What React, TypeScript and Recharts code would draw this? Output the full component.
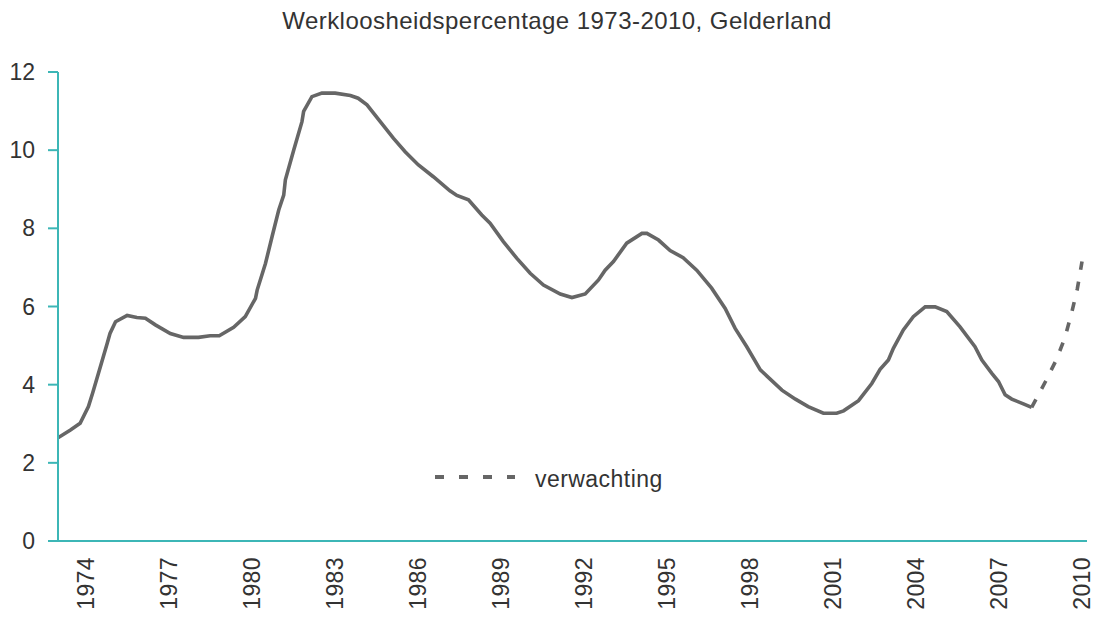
import { LineChart, Line, XAxis, YAxis, Legend } from "recharts";

const jaren = [
  1973.0, 1973.45, 1973.8, 1974.1, 1974.25, 1974.5, 1974.78, 1974.88, 1975.08, 1975.5,
  1975.85, 1976.16, 1976.52, 1977.06, 1977.54, 1978.08, 1978.5, 1978.83, 1979.35, 1979.77,
  1980.14, 1980.2, 1980.5, 1980.74, 1980.98, 1981.16, 1981.22, 1981.52, 1981.82, 1981.88,
  1982.18, 1982.54, 1983.02, 1983.57, 1983.85, 1984.17, 1984.65, 1985.13, 1985.55, 1986.03,
  1986.57, 1987.17, 1987.42, 1987.84, 1988.32, 1988.62, 1989.1, 1989.59, 1990.07, 1990.55,
  1991.16, 1991.58, 1992.06, 1992.54, 1992.78, 1993.08, 1993.56, 1994.11, 1994.29, 1994.71,
  1995.13, 1995.6, 1996.09, 1996.63, 1997.12, 1997.48, 1997.9, 1998.39, 1998.63, 1999.17,
  1999.66, 2000.12, 2000.67, 2001.15, 2001.4, 2001.94, 2002.42, 2002.72, 2003.02, 2003.2,
  2003.56, 2003.92, 2004.35, 2004.71, 2005.13, 2005.61, 2006.15, 2006.4, 2006.76, 2007.0,
  2007.24, 2007.48, 2007.9, 2008.2,
];
const werkloosheid = [
  2.64, 2.84, 3.01, 3.44, 3.78, 4.38, 5.06, 5.31, 5.61, 5.77,
  5.72, 5.7, 5.53, 5.31, 5.21, 5.21, 5.25, 5.25, 5.47, 5.74,
  6.21, 6.42, 7.1, 7.79, 8.47, 8.85, 9.24, 10.0, 10.73, 10.99,
  11.37, 11.46, 11.46, 11.4, 11.33, 11.16, 10.73, 10.3, 9.96, 9.62,
  9.32, 8.96, 8.84, 8.73, 8.34, 8.13, 7.66, 7.23, 6.85, 6.55,
  6.32, 6.23, 6.32, 6.68, 6.93, 7.15, 7.62, 7.87, 7.87, 7.7,
  7.43, 7.25, 6.93, 6.47, 5.95, 5.44, 4.97, 4.38, 4.22, 3.86,
  3.63, 3.44, 3.27, 3.27, 3.33, 3.59, 4.03, 4.39, 4.63, 4.93,
  5.4, 5.74, 5.99, 5.99, 5.87, 5.48, 4.97, 4.63, 4.29, 4.08,
  3.74, 3.63, 3.51, 3.42,
];

const prognoseJaren = [2008.2, 2008.7, 2009.1, 2009.4, 2009.65, 2009.85, 2010.02];
const prognose = [3.42, 4.08, 4.65, 5.2, 5.85, 6.45, 7.15];

const jaarTicks = [1974, 1977, 1980, 1983, 1986, 1989, 1992, 1995, 1998, 2001, 2004, 2007, 2010];
const yTicks = [0, 2, 4, 6, 8, 10, 12];

const gemeten = jaren.map((jaar, i) => ({ jaar, waarde: werkloosheid[i] }));
const verwacht = prognoseJaren.map((jaar, i) => ({ jaar, waarde: prognose[i] }));

const FONT = '"Liberation Sans", Arial, Helvetica, sans-serif';
const TEAL = "#3cb6b6";
const LIJN = "#666666";
const TEKST = "#333333";

function JaarTick({ x, y, payload }: any) {
  return (
    <text
      x={x}
      y={y}
      transform={`rotate(-90, ${x}, ${y})`}
      textAnchor="end"
      dy="0.36em"
      fill={TEKST}
      fontSize={23}
      fontFamily={FONT}
      letterSpacing={0.4}
    >
      {payload.value}
    </text>
  );
}

function LegendaInhoud() {
  return (
    <svg width={260} height={34}>
      <line x1={5} y1={15} x2={85} y2={15} stroke={LIJN} strokeWidth={4} strokeDasharray="9 15" />
      <text x={105} y={25} fill={TEKST} fontSize={23} fontFamily={FONT} letterSpacing={0.45}>
        verwachting
      </text>
    </svg>
  );
}

export default function App() {
  return (
    <div style={{ position: "absolute", left: 0, top: 0, width: 1095, height: 618, background: "#fff" }}>
      <div
        style={{
          position: "absolute",
          left: 0,
          top: 9,
          width: 1114,
          textAlign: "center",
          fontFamily: FONT,
          fontSize: 24,
          lineHeight: "24px",
          letterSpacing: 0.45,
          color: TEKST,
        }}
      >
        Werkloosheidspercentage 1973-2010, Gelderland
      </div>
      <LineChart width={1095} height={618} margin={{ top: 72, right: 8, bottom: 0, left: 0 }}>
        <XAxis
          dataKey="jaar"
          type="number"
          domain={[1973, 2010.2]}
          ticks={jaarTicks}
          allowDataOverflow
          height={77}
          tickLine={false}
          tickSize={0}
          tickMargin={16}
          axisLine={{ stroke: TEAL, strokeWidth: 2 }}
          tick={<JaarTick />}
          interval={0}
        />
        <YAxis
          type="number"
          domain={[0, 12]}
          ticks={yTicks}
          width={58}
          tickSize={10}
          tickMargin={13}
          axisLine={{ stroke: TEAL, strokeWidth: 2 }}
          tickLine={{ stroke: TEAL, strokeWidth: 2 }}
          tick={{ fill: TEKST, fontSize: 23, fontFamily: FONT }}
          interval={0}
        />
        <Legend
          layout="horizontal"
          verticalAlign="middle"
          align="center"
          content={<LegendaInhoud />}
          wrapperStyle={{ position: "absolute", left: 430, top: 462, width: 260, height: 34 }}
        />
        <Line
          data={gemeten}
          dataKey="waarde"
          name="werkloosheid"
          type="linear"
          stroke={LIJN}
          strokeWidth={3.6}
          dot={false}
          activeDot={false}
          legendType="none"
          isAnimationActive={false}
        />
        <Line
          data={verwacht}
          dataKey="waarde"
          name="verwachting"
          type="linear"
          stroke={LIJN}
          strokeWidth={3.6}
          strokeDasharray="9 12"
          dot={false}
          activeDot={false}
          isAnimationActive={false}
        />
      </LineChart>
    </div>
  );
}
